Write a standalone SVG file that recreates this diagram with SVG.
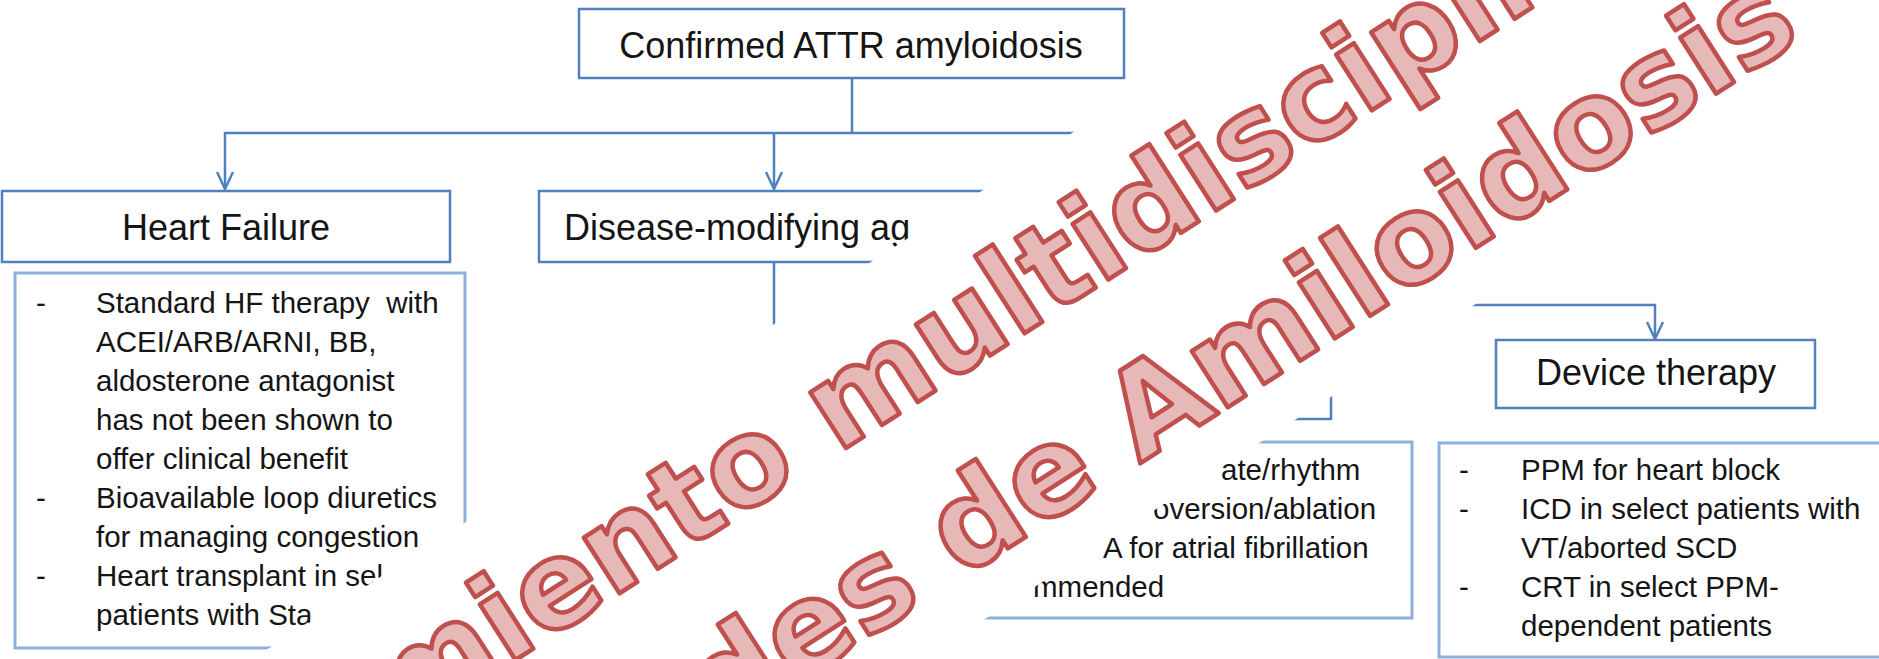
<svg xmlns="http://www.w3.org/2000/svg" width="1879" height="659" viewBox="0 0 1879 659">
<style>
.box{fill:#fff;stroke:#4F81BD;stroke-width:2.5}
.cbox{fill:#fff;stroke:#8EB1DC;stroke-width:3}
.h{font-family:'Liberation Sans',Arial,sans-serif;font-size:36px;fill:#151515}
.t{font-family:'Liberation Sans',Arial,sans-serif;font-size:29.5px;fill:#151515}
.ln{fill:none;stroke:#4F81BD;stroke-width:2.5}
.wm{font-family:'DejaVu Sans',Verdana,sans-serif;font-weight:bold;fill:#E6B8B7;stroke:#C0504D;stroke-width:4.5;stroke-linejoin:round}
</style>
<defs>
<marker id="arr" viewBox="0 0 20 18" markerWidth="20" markerHeight="18" refX="18" refY="9" orient="auto" markerUnits="userSpaceOnUse">
<path d="M1,1 L18,9 L1,17" fill="none" stroke="#4F81BD" stroke-width="2.5"/>
</marker>
</defs>
<rect width="1879" height="659" fill="#fff"/>
<g id="connectors">
<path class="ln" d="M852,78 V133"/>
<path class="ln" d="M1100,133 H225 V189" marker-end="url(#arr)"/>
<path class="ln" d="M774,133 V189" marker-end="url(#arr)"/>
<path class="ln" d="M774,262 V420"/>
<path class="ln" d="M1400,305 H1655 V339" marker-end="url(#arr)"/>
</g>
<g id="node-top">
<rect class="box" x="579" y="9" width="545" height="69"/>
<text class="h" x="851" y="58" text-anchor="middle">Confirmed ATTR amyloidosis</text>
</g>
<g id="node-hf">
<rect class="box" x="2" y="191" width="448" height="71"/>
<text class="h" x="226" y="240" text-anchor="middle">Heart Failure</text>
</g>
<g id="node-dma">
<rect class="box" x="539" y="191" width="471" height="71"/>
<text class="h" x="564" y="240">Disease-modifying ag</text>
</g>
<g id="node-hf-list">
<rect class="cbox" x="15" y="273" width="450" height="375"/>
<text class="t" x="36" y="313">-</text>
<text class="t" x="96" y="313" xml:space="preserve">Standard HF therapy  with</text>
<text class="t" x="96" y="352">ACEI/ARB/ARNI, BB,</text>
<text class="t" x="96" y="391">aldosterone antagonist</text>
<text class="t" x="96" y="430">has not been shown to</text>
<text class="t" x="96" y="469">offer clinical benefit</text>
<text class="t" x="36" y="508">-</text>
<text class="t" x="96" y="508">Bioavailable loop diuretics</text>
<text class="t" x="96" y="547">for managing congestion</text>
<text class="t" x="36" y="586">-</text>
<text class="t" x="96" y="586">Heart transplant in sel</text>
<text class="t" x="96" y="625">patients with Sta</text>
</g>
<g id="node-arr-title">
<rect class="box" x="1000" y="345" width="331" height="74"/>
</g>
<g id="node-arr-list">
<rect class="cbox" x="960" y="442" width="452" height="176"/>
<text class="t" x="1221" y="480">ate/rhythm</text>
<text class="t" x="1153" y="519">oversion/ablation</text>
<text class="t" x="1103" y="558">A for atrial fibrillation</text>
<text class="t" x="1033" y="597">mmended</text>
</g>
<g id="node-device">
<rect class="box" x="1496" y="340" width="319" height="68"/>
<text class="h" x="1656" y="385" text-anchor="middle">Device therapy</text>
</g>
<g id="node-device-list">
<rect class="cbox" x="1439" y="443" width="470" height="214"/>
<text class="t" x="1459" y="480">-</text>
<text class="t" x="1521" y="480">PPM for heart block</text>
<text class="t" x="1459" y="519">-</text>
<text class="t" x="1521" y="519">ICD in select patients with</text>
<text class="t" x="1521" y="558">VT/aborted SCD</text>
<text class="t" x="1459" y="597">-</text>
<text class="t" x="1521" y="597">CRT in select PPM-</text>
<text class="t" x="1521" y="636">dependent patients</text>
</g>
<g id="watermark" transform="rotate(-32.7)">
<rect x="-700" y="691" width="2800" height="362" fill="#fff"/>
<text class="wm" x="-59" y="834" font-size="121">miento multidisciplin</text>
<text class="wm" x="211" y="1006" font-size="122">des de Amiloidosis</text>
</g>
</svg>
